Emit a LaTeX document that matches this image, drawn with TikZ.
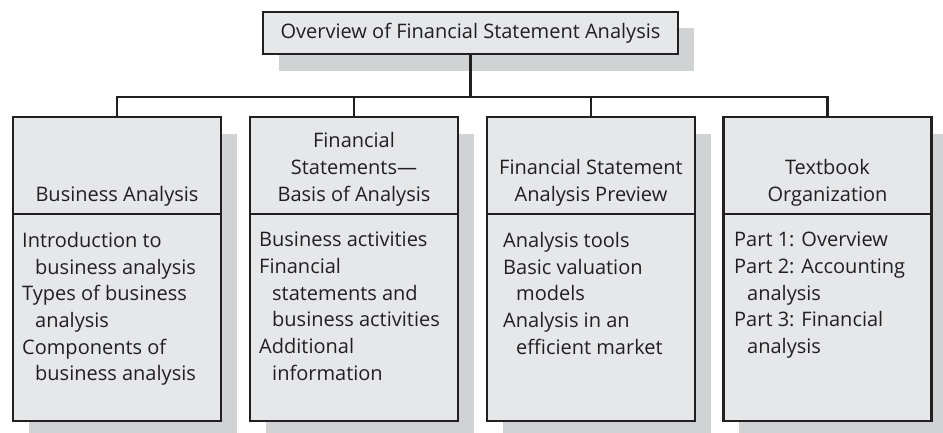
\documentclass[tikz,border=0pt]{standalone}
\usepackage{fontspec}
\setmainfont{Open Sans}
\definecolor{boxfill}{HTML}{E6E7E9}
\definecolor{shadowgray}{HTML}{D1D2D4}
\definecolor{ink}{HTML}{231F20}
\tikzset{
  boxpart/.style={draw=ink, line width=2.6pt, fill=boxfill, inner sep=0pt, minimum width=208pt},
  conn/.style={draw=ink, line width=2.6pt},
  txt/.style={inner sep=0pt, text=ink, font=\fontsize{20}{26.7}\selectfont},
}
\newcommand{\ind}{\hspace*{13pt}}
\begin{document}
\begin{tikzpicture}[x=1pt,y=-1pt]
\useasboundingbox (0,0) rectangle (943,432);
% shadows
\fill[shadowgray] (279,28) rectangle (694,71);
\foreach \xx in {13,250,487,723}{
  \fill[shadowgray] (\xx+16,134) rectangle (\xx+224,440);
}
% top box
\node[boxpart, minimum width=415pt, minimum height=42pt, txt] (top) at (470.5,33) {Overview of Financial Statement Analysis};
% boxes
\foreach \i/\xx in {1/117,2/354,3/591,4/827.5}{
  \node[boxpart, minimum height=97pt] (h\i) at (\xx,165.5) {};
  \node[boxpart, minimum height=207pt] (b\i) at (\xx,317.5) {};
}
% header texts
\node[txt, align=center, anchor=south] (t1) at (117,206) {Business Analysis};
\node[txt, align=center, anchor=south] (t2) at (354,206) {Financial\\Statements—\\Basis of Analysis};
\node[txt, align=center, anchor=south] (t3) at (591,206) {Financial Statement\\Analysis Preview};
\node[txt, align=center, anchor=south] (t4) at (827.5,206) {Textbook\\Organization};
% body texts
\node[txt, align=left, anchor=north west] (c1) at (22,232) {Introduction to\\\ind business analysis\\Types of business\\\ind analysis\\Components of\\\ind business analysis};
\node[txt, align=left, anchor=north west] (c2) at (259,232) {Business activities\\Financial\\\ind statements and\\\ind business activities\\Additional\\\ind information};
\node[txt, align=left, anchor=north west] (c3) at (503,232) {Analysis tools\\Basic valuation\\\ind models\\Analysis in an\\\ind efficient market};
\node[txt, align=left, anchor=north west] (c4) at (734,232) {Part 1: Overview\\Part 2: Accounting\\\ind analysis\\Part 3: Financial\\\ind analysis};
% connectors
\coordinate (bus) at (top.south |- 0,97);
\draw[conn] (top.south) -- (bus);
\draw[conn] (h1.north) -- (h1.north |- bus) -- (h4.north |- bus) -- (h4.north);
\draw[conn] (h2.north) -- (h2.north |- bus);
\draw[conn] (h3.north) -- (h3.north |- bus);
\end{tikzpicture}
\end{document}
